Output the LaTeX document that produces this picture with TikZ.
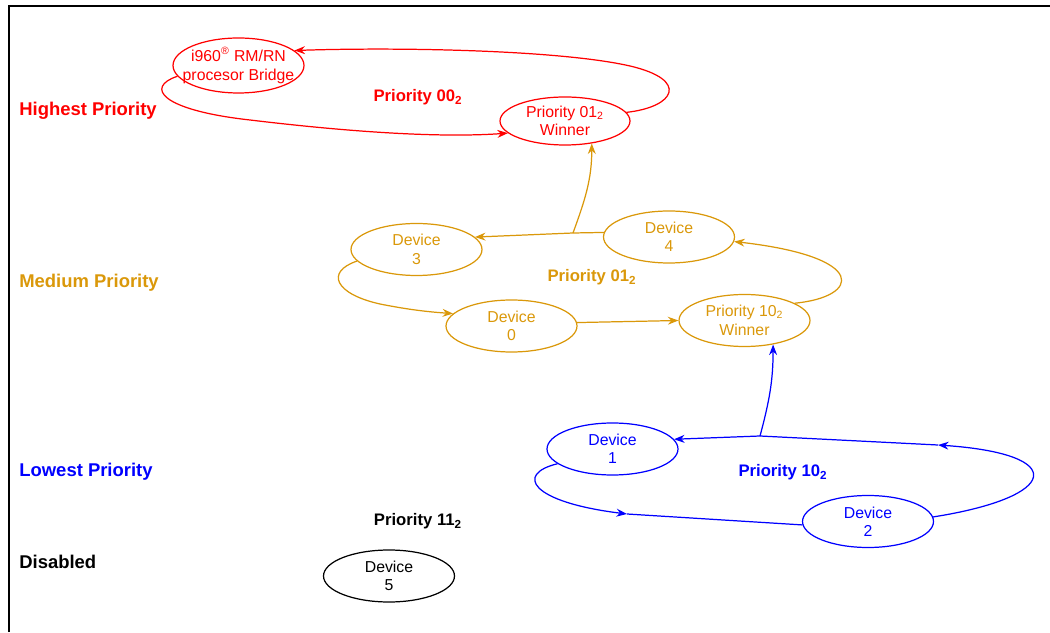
\documentclass[tikz,border=0pt]{standalone}
\usepackage{fontspec}
\setmainfont{Liberation Sans}
\usetikzlibrary{arrows.meta,shapes.geometric}

\definecolor{highcol}{RGB}{255,0,0}
\definecolor{medcol}{RGB}{218,152,10}
\definecolor{lowcol}{RGB}{0,0,255}

\begin{document}
\begin{tikzpicture}[x=0.02cm,y=0.02cm,
    state/.style={ellipse,draw,line width=0.7pt,minimum width=2.62cm,minimum height=1.04cm,
      inner sep=0pt,align=center,font=\fontsize{9}{10.5}\selectfont},
    level/.style={anchor=west,inner sep=0pt,font=\fontsize{10.5}{12}\selectfont\bfseries},
    group/.style={font=\fontsize{9.5}{11}\selectfont\bfseries},
    wire/.style={line width=0.7pt},
    tip/.style={-{Stealth[length=6pt,width=4.5pt]}}]

  \useasboundingbox (0,0) rectangle (1050,632);

  % frame
  \draw[line width=0.9pt] (9,0) -- (9,626) -- (1050,626);

  % priority levels
  \node[level,highcol] (lhigh) at (19,521) {Highest Priority};
  \node[level,medcol] (lmed) at (19,349) {Medium Priority};
  \node[level,lowcol] (llow) at (19,160) {Lowest Priority};
  \node[level] (ldis) at (19,70) {Disabled};

  % priority 00
  \node[state,highcol,inner xsep=-6pt,minimum height=1.1cm] (bridge) at (238.5,566.5) {i960\textsuperscript{®} RM/RN\\procesor Bridge};
  \node[state,highcol,minimum width=2.6cm,minimum height=0.96cm] (win1) at (565,511) {Priority 01\textsubscript{2}\\Winner};
  \node[group,highcol] (g00) at (418,535) {Priority 00\textsubscript{2}};

  \draw[wire,highcol,tip] (win1.8) .. controls (675,525) and (690,552) .. (630,566)
    .. controls (560,582) and (400,585) .. (bridge.15);
  \draw[wire,highcol,tip] (bridge.190) .. controls (145,545) and (160,522) .. (250,512)
    .. controls (350,500) and (440,494) .. (win1.192);

  % priority 01
  \node[state,medcol] (dev3) at (416.5,382.5) {Device\\3};
  \node[state,medcol] (dev4) at (669,395) {Device\\4};
  \node[state,medcol] (dev0) at (511.5,306) {Device\\0};
  \node[state,medcol] (win2) at (744.5,311.5) {Priority 10\textsubscript{2}\\Winner};
  \node[group,medcol] (g01) at (592,355) {Priority 01\textsubscript{2}};
  \coordinate (j3) at (573,399);

  \draw[wire,medcol,tip] (dev3.191) .. controls (325,360) and (335,338) .. (380,328)
    .. controls (410,322) and (430,320) .. (dev0.168);
  \draw[wire,medcol,tip] (dev0.3) -- (win2.180);
  \draw[wire,medcol,tip] (win2.19) .. controls (860,335) and (870,375) .. (dev4.-4);
  \draw[wire,medcol,tip] (dev4.176) -- (j3) -- (dev3.12);
  \draw[wire,medcol,tip] (j3) to[out=70,in=-90] (win1.-40);

  % priority 10
  \node[state,lowcol] (dev1) at (612.5,183) {Device\\1};
  \node[state,lowcol] (dev2) at (868,110.5) {Device\\2};
  \node[group,lowcol] (g10) at (783,160) {Priority 10\textsubscript{2}};
  \coordinate (j1) at (760,196);
  \coordinate (b1) at (627,118);
  \coordinate (b2) at (938,187);

  \draw[wire,lowcol,tip] (dev2.4) .. controls (1060,135) and (1070,178) .. (b2);
  \draw[wire,lowcol,tip] (b2) -- (j1) -- (dev1.9);
  \draw[wire,lowcol,tip] (j1) to[out=75,in=-90] (win2.-40);
  \draw[wire,lowcol,tip] (dev1.195) .. controls (515,158) and (530,130) .. (b1);
  \draw[wire,lowcol] (b1) -- (dev2.183);

  % priority 11
  \node[group] (g11) at (418,111) {Priority 11\textsubscript{2}};
  \node[state] (dev5) at (389,56) {Device\\5};

\end{tikzpicture}
\end{document}
